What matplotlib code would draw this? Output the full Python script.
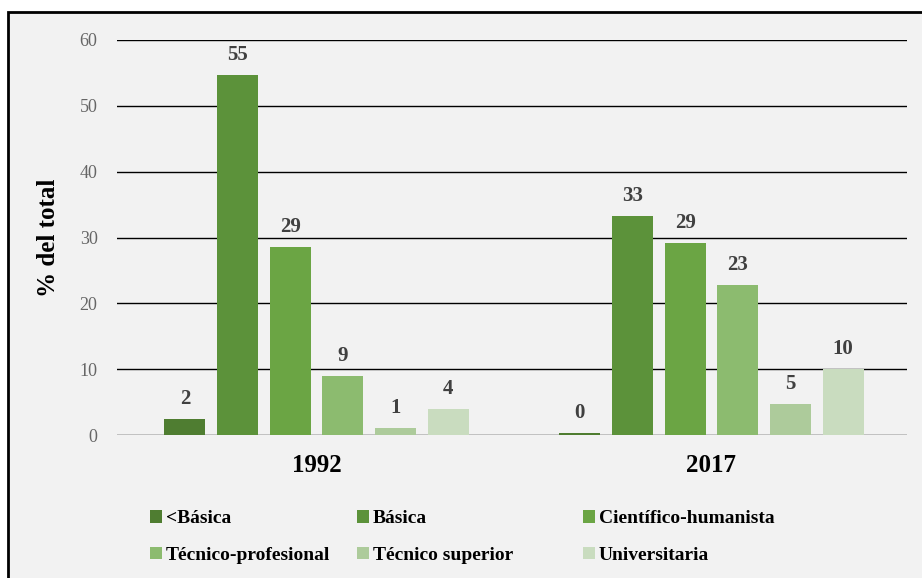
import matplotlib.pyplot as plt
import numpy as np
from matplotlib.patches import Rectangle

plt.rcParams['font.family'] = ['Liberation Serif', 'DejaVu Serif']

YEARS = ['1992', '2017']
LEVELS = ['<Básica', 'Básica', 'Científico-humanista',
          'Técnico-profesional', 'Técnico superior', 'Universitaria']
SHARE_1992 = [2.4, 54.7, 28.6, 9.0, 1.1, 4.0]
SHARE_2017 = [0.3, 33.3, 29.1, 22.8, 4.7, 10.0]
COLORS = ['#4f7d31', '#5c923a', '#6ba544', '#8cbb6f', '#adcb9b', '#c9dcbf']

BG = '#f2f2f2'
W, H = 922, 578

fig = plt.figure(figsize=(W / 100, H / 100), dpi=100, facecolor='white')

# gray panel with a black frame, cut off at the right and bottom edges
fig.patches.append(Rectangle((8 / W, -0.05), 1.05, (H - 12) / H + 0.05,
                             transform=fig.transFigure, facecolor=BG,
                             edgecolor='black', linewidth=2, zorder=-10))

ax = fig.add_axes([117 / W, 1 - 435 / H, (907 - 117) / W, (435 - 40) / H])
ax.set_facecolor('none')

values = np.array([SHARE_1992, SHARE_2017])
x = np.arange(len(YEARS))
step = 0.1333
width = 0.104
offsets = (np.arange(len(LEVELS)) - (len(LEVELS) - 1) / 2) * step

handles = []
for i, level in enumerate(LEVELS):
    bars = ax.bar(x + offsets[i], values[:, i], width, color=COLORS[i],
                  label=level, zorder=3)
    handles.append(bars)
    for b, v in zip(bars, values[:, i]):
        ax.text(b.get_x() + b.get_width() / 2, v + 2.3, f'{v:.0f}',
                ha='center', va='baseline', fontsize=15, fontweight='bold',
                color='#404040')

ax.set_xlim(-0.505, 1.495)
ax.set_ylim(0, 60)
ax.set_yticks(range(0, 61, 10))
ax.yaxis.grid(True, color='black', linewidth=1)
ax.set_axisbelow(True)
for s in ax.spines.values():
    s.set_visible(False)
ax.tick_params(axis='both', length=0)
ax.tick_params(axis='y', labelsize=13, labelcolor='#666666', pad=14)
ax.set_xticks(x)
ax.set_xticklabels(YEARS, fontsize=18, fontweight='bold')
ax.tick_params(axis='x', pad=14)
ax.set_ylabel('% del total', fontsize=18, fontweight='bold', labelpad=14)

# legend: two rows, three columns, filled row by row
col_x = [150, 357, 583]
for j, cx in enumerate(col_x):
    fig.legend([handles[j], handles[j + 3]], [LEVELS[j], LEVELS[j + 3]],
               loc='center left', bbox_to_anchor=(cx / W, 1 - 537 / H),
               frameon=False, prop={'size': 14, 'weight': 'bold'},
               handlelength=0.62, handleheight=0.62, handletextpad=0.2,
               labelspacing=1.0, borderpad=0, borderaxespad=0)

fig.savefig('out.png', dpi=100, facecolor=fig.get_facecolor())
